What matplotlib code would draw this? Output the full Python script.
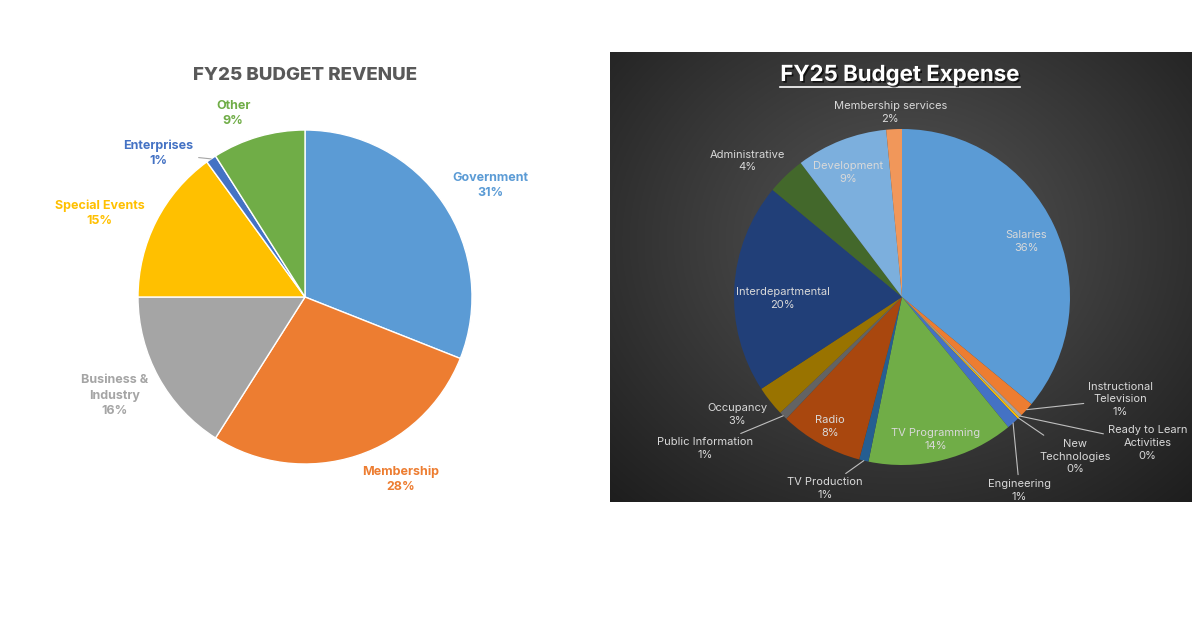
import matplotlib.pyplot as plt
import matplotlib.patheffects as pe
from matplotlib.lines import Line2D
import numpy as np

plt.rcParams['font.family'] = ['Inter', 'DejaVu Sans']

# revenue data (percent)
rev_labels = ['Government', 'Membership', 'Business &\nIndustry', 'Special Events', 'Enterprises', 'Other']
rev_values = [31, 28, 16, 15, 1, 9]
rev_colors = ['#5B9BD5', '#ED7D31', '#A5A5A5', '#FFC000', '#4472C4', '#70AD47']
rev_text_pos = [(1.11, 0.67), (0.57, -1.09), (-1.14, -0.59), (-1.23, 0.50), (-0.88, 0.86), (-0.43, 1.10)]

# expense data (percent)
exp_labels = ['Salaries', 'Instructional\nTelevision', 'Ready to Learn\nActivities', 'New\nTechnologies',
              'Engineering', 'TV Programming', 'TV Production', 'Radio', 'Public Information',
              'Occupancy', 'Interdepartmental', 'Administrative', 'Development', 'Membership services']
exp_values = [36.0, 1.4, 0.3, 0.2, 1.2, 14.1, 0.9, 8.0, 0.8, 2.9, 20.2, 3.7, 8.8, 1.5]
exp_colors = ['#5B9BD5', '#ED7D31', '#A5A5A5', '#FFC000', '#4472C4', '#70AD47', '#255E91',
              '#A9470E', '#636363', '#997300', '#213F78', '#43682B', '#7CAFDD', '#F1975A']
exp_text_pos = [(0.74, 0.33), (1.30, -0.61), (1.46, -0.87), (1.03, -0.95), (0.70, -1.15),
                (0.20, -0.85), (-0.46, -1.14), (-0.43, -0.77), (-1.17, -0.90), (-0.98, -0.70),
                (-0.71, -0.01), (-0.92, 0.81), (-0.32, 0.74), (-0.07, 1.10)]
exp_leader = ['Instructional\nTelevision', 'Ready to Learn\nActivities', 'New\nTechnologies',
              'Engineering', 'TV Production', 'Public Information']

fig = plt.figure(figsize=(12, 6.27), dpi=100)
W, H = 1200, 627

def pie_axes(cx, cy, r, lim=1.6):
    half = lim * r
    return fig.add_axes([(cx - half) / W, (H - cy - half) / H, 2 * half / W, 2 * half / H])

# dark panel behind the expense pie
bg = fig.add_axes([610 / W, (H - 502) / H, 582 / W, 450 / H], zorder=0)
yy, xx = np.mgrid[0:1:300j, 0:1:400j]
d = np.sqrt(((xx - 0.5) * 1.1) ** 2 + ((yy - 0.42) * 1.0) ** 2)
shade = np.clip(0.34 - 0.28 * d, 0.11, 0.34)
bg.imshow(np.dstack([shade] * 3), aspect='auto', extent=[0, 1, 0, 1], origin='upper')
bg.axis('off')

# ---- revenue pie
ax1 = pie_axes(305, 297, 167)
w1, _ = ax1.pie(rev_values, colors=rev_colors, startangle=90, counterclock=False,
                wedgeprops=dict(edgecolor='white', linewidth=1))
for w, lab, v, c, p in zip(w1, rev_labels, rev_values, rev_colors, rev_text_pos):
    txt = f"{lab}\n{v:.0f}%"
    if lab == 'Enterprises':
        th = np.deg2rad((w.theta1 + w.theta2) / 2)
        ax1.annotate(txt, xy=(np.cos(th), np.sin(th)), xytext=p, ha='center', va='center',
                     color=c, fontsize=9, fontweight='bold', linespacing=1.35,
                     arrowprops=dict(arrowstyle='-', color='#A5A5A5', lw=0.8, shrinkA=2, shrinkB=0))
    else:
        ax1.text(p[0], p[1], txt, ha='center', va='center', color=c, fontsize=9,
                 fontweight='bold', linespacing=1.35)
ax1.set_xlim(-1.6, 1.6)
ax1.set_ylim(-1.6, 1.6)
ax1.set_aspect('equal')
fig.text(305 / W, 1 - 75 / H, 'FY25 BUDGET REVENUE', ha='center', va='center',
         fontsize=13.5, fontweight='heavy', color='#595959')

# ---- expense pie
ax2 = pie_axes(902, 297, 168)
ax2.set_zorder(1)
ax2.patch.set_visible(False)
w2, _ = ax2.pie(exp_values, colors=exp_colors, startangle=90, counterclock=False,
                wedgeprops=dict(edgecolor='none', linewidth=0))
for w, lab, v, p in zip(w2, exp_labels, exp_values, exp_text_pos):
    txt = f"{lab}\n{v:.0f}%"
    if lab in exp_leader:
        th = np.deg2rad((w.theta1 + w.theta2) / 2)
        ax2.annotate(txt, xy=(np.cos(th), np.sin(th)), xytext=p, ha='center', va='center',
                     color='#D9D9D9', fontsize=8, linespacing=1.35,
                     arrowprops=dict(arrowstyle='-', color='#BFBFBF', lw=0.8, shrinkA=1, shrinkB=0))
    else:
        ax2.text(p[0], p[1], txt, ha='center', va='center', color='#D9D9D9',
                 fontsize=8, linespacing=1.35)
ax2.set_xlim(-1.6, 1.6)
ax2.set_ylim(-1.6, 1.6)
ax2.set_aspect('equal')

title2 = fig.text(900 / W, 1 - 75 / H, 'FY25 Budget Expense', ha='center', va='center',
                  fontsize=16, fontweight='bold', color='white', zorder=5,
                  path_effects=[pe.withSimplePatchShadow(offset=(1.2, -1.2), shadow_rgbFace='black', alpha=0.7)])

fig.canvas.draw()
bb = title2.get_window_extent().transformed(fig.transFigure.inverted())
uy = bb.y0 - 1.5 / H
fig.add_artist(Line2D([bb.x0, bb.x1], [uy, uy], color='white', lw=1.2, zorder=5))

fig.savefig('out.png', dpi=100, facecolor='white')
